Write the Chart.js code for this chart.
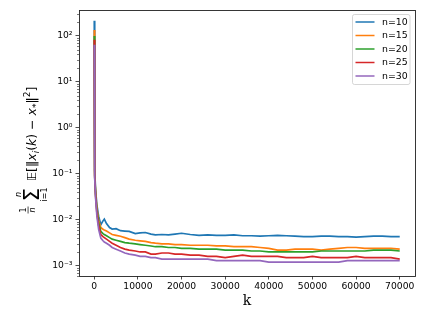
<!DOCTYPE html>
<html>
<head>
<meta charset="utf-8">
<script src="https://cdn.jsdelivr.net/npm/chart.js@4.4.0/dist/chart.umd.min.js"></script>
<style>
  html, body { margin: 0; padding: 0; background: #fff; }
  #wrap { width: 425px; height: 319px; }
</style>
</head>
<body>
<div id="wrap"><canvas id="errChart" width="425" height="319"></canvas></div>
<script>
// iteration index k (shared by every curve)
const iterations = [0, 100, 300, 600, 1000, 1500, 2000, 2300, 2800, 3500,
    4100, 5000, 6000, 7000, 8000, 9400, 10500, 11700, 13000, 14000,
    15500, 17000, 18500, 20000, 22000, 24000, 26000, 28000, 30000, 32000,
    34000, 36000, 38000, 40000, 42000, 44000, 46000, 48000, 50000, 52000,
    54000, 56000, 58000, 60000, 62000, 64000, 66000, 68000, 70000];

const errN10 = [214, 0.12, 0.045, 0.021, 0.012, 0.0078, 0.0095, 0.0104, 0.0083, 0.0068,
    0.0063, 0.0064, 0.0058, 0.0057, 0.0056, 0.0050, 0.0052, 0.0053, 0.0049, 0.0047,
    0.0048, 0.0047, 0.0049, 0.0051, 0.0048, 0.0046, 0.0047, 0.0046, 0.0046, 0.0047,
    0.0045, 0.0045, 0.0044, 0.0045, 0.0046, 0.0045, 0.0044, 0.0043, 0.0043, 0.0044,
    0.0044, 0.0043, 0.0043, 0.0042, 0.0043, 0.0044, 0.0044, 0.0043, 0.0043];
const errN15 = [135, 0.10, 0.040, 0.018, 0.0098, 0.0068, 0.0062, 0.0060, 0.0057, 0.0052,
    0.0048, 0.0046, 0.0044, 0.0041, 0.0038, 0.0036, 0.0035, 0.0034, 0.0032, 0.0031,
    0.0030, 0.0030, 0.0029, 0.0029, 0.0028, 0.0028, 0.0028, 0.0027, 0.0027, 0.0026,
    0.0026, 0.0026, 0.0025, 0.0024, 0.0022, 0.0022, 0.0023, 0.0023, 0.0023, 0.0022,
    0.0023, 0.0024, 0.0025, 0.0025, 0.0024, 0.0024, 0.0024, 0.0024, 0.0023];
const errN20 = [100, 0.09, 0.036, 0.016, 0.0085, 0.0056, 0.0050, 0.0048, 0.0045, 0.0041,
    0.0038, 0.0036, 0.0034, 0.0032, 0.0031, 0.0030, 0.0029, 0.0028, 0.0027, 0.0026,
    0.0026, 0.0025, 0.0025, 0.0024, 0.0024, 0.0023, 0.0023, 0.0023, 0.0022, 0.0022,
    0.0022, 0.0021, 0.0021, 0.0020, 0.0020, 0.0020, 0.0020, 0.0020, 0.0020, 0.0021,
    0.0021, 0.0021, 0.0021, 0.0021, 0.0021, 0.0022, 0.0022, 0.0022, 0.0021];
const errN25 = [82, 0.085, 0.033, 0.014, 0.0075, 0.0048, 0.0043, 0.0041, 0.0038, 0.0034,
    0.0031, 0.0028, 0.0025, 0.0023, 0.0022, 0.0021, 0.0020, 0.0020, 0.0018, 0.0018,
    0.0019, 0.0019, 0.0018, 0.0018, 0.0017, 0.0017, 0.0016, 0.0016, 0.0015, 0.0016,
    0.0017, 0.0016, 0.0016, 0.0016, 0.0016, 0.0015, 0.0015, 0.0015, 0.0016, 0.0015,
    0.0015, 0.0015, 0.0015, 0.0016, 0.0015, 0.0015, 0.0015, 0.0015, 0.0014];
const errN30 = [64, 0.08, 0.030, 0.012, 0.0062, 0.0040, 0.0035, 0.0033, 0.0031, 0.0028,
    0.0025, 0.0023, 0.0021, 0.0019, 0.0018, 0.0017, 0.0016, 0.0016, 0.0015, 0.0015,
    0.0014, 0.0014, 0.0014, 0.0014, 0.0014, 0.0014, 0.0014, 0.0013, 0.0013, 0.0013,
    0.0013, 0.0013, 0.0013, 0.0012, 0.0012, 0.0012, 0.0012, 0.0012, 0.0012, 0.0012,
    0.0012, 0.0012, 0.0013, 0.0013, 0.0013, 0.0013, 0.0013, 0.0013, 0.0013];

const seriesLabels = ['n=10', 'n=15', 'n=20', 'n=25', 'n=30'];
const seriesValues = [errN10, errN15, errN20, errN25, errN30];
const seriesColors = ['#1f77b4', '#ff7f0e', '#2ca02c', '#d62728', '#9467bd'];

const xTicks = [0, 10000, 20000, 30000, 40000, 50000, 60000, 70000];
const yTicks = [1e-3, 1e-2, 1e-1, 1, 10, 100];

const SUP = { '-': '⁻', '0': '⁰', '1': '¹', '2': '²', '3': '³', '4': '⁴' };
function powLabel(v) {
    const e = Math.round(Math.log10(v));
    return '10' + String(e).split('').map(c => SUP[c]).join('');
}

const TICK_FONT = { family: 'DejaVu Sans', size: 9.2 };

// box around the axes, minor log ticks, legend and the math y label
const decorPlugin = {
    id: 'decor',
    afterDraw(chart) {
        const ctx = chart.ctx;
        const ca = chart.chartArea;
        const y = chart.scales.y;

        // minor ticks on the log axis
        ctx.save();
        ctx.strokeStyle = '#222';
        ctx.lineWidth = 0.6;
        for (let e = -4; e <= 2; e++) {
            for (let m = 2; m <= 9; m++) {
                const v = m * Math.pow(10, e);
                if (v < y.min || v > y.max) continue;
                const py = Math.round(y.getPixelForValue(v)) + 0.5;
                ctx.beginPath();
                ctx.moveTo(ca.left, py);
                ctx.lineTo(ca.left - 2, py);
                ctx.stroke();
            }
        }
        ctx.restore();

        // frame
        ctx.save();
        ctx.strokeStyle = '#222';
        ctx.lineWidth = 0.9;
        const l = Math.round(ca.left) + 0.5, t = Math.round(ca.top) + 0.5;
        ctx.strokeRect(l, t, Math.round(ca.right) - Math.round(ca.left), Math.round(ca.bottom) - Math.round(ca.top));
        ctx.restore();

        // legend
        ctx.save();
        const bx = 352.5, by = 14.5, bw = 57.5, bh = 70;
        ctx.fillStyle = 'rgba(255,255,255,0.8)';
        ctx.strokeStyle = '#cccccc';
        ctx.lineWidth = 0.8;
        ctx.beginPath();
        ctx.roundRect(bx, by, bw, bh, 2);
        ctx.fill();
        ctx.stroke();
        ctx.font = '9.4px "DejaVu Sans"';
        ctx.textBaseline = 'middle';
        ctx.textAlign = 'left';
        chart.data.datasets.forEach((ds, i) => {
            const ry = 22 + i * 13.5;
            ctx.strokeStyle = ds.borderColor;
            ctx.lineWidth = 1.5;
            ctx.beginPath();
            ctx.moveTo(355.5, ry);
            ctx.lineTo(374.5, ry);
            ctx.stroke();
            ctx.fillStyle = '#000';
            ctx.fillText(ds.label, 382, ry + 0.5);
        });
        ctx.restore();

        // y label: (1/n) sum_{i=1}^n E[ ||x_i(k) - x_*||^2 ]
        ctx.save();
        ctx.translate(36, 215);
        ctx.rotate(-Math.PI / 2);
        ctx.fillStyle = '#000';
        ctx.textBaseline = 'alphabetic';
        ctx.textAlign = 'center';
        ctx.font = '8px "DejaVu Sans"';
        ctx.fillText('1', 5, -10);
        ctx.font = 'italic 8px "DejaVu Sans"';
        ctx.fillText('n', 5, -1);
        ctx.fillRect(1.5, -8.3, 7, 0.7);
        ctx.font = '21px "DejaVu Sans"';
        ctx.fillText('Σ', 20.5, 2.5);
        ctx.font = 'italic 8px "DejaVu Sans"';
        ctx.fillText('n', 20.5, -15);
        ctx.font = '8px "DejaVu Sans"';
        ctx.fillText('i=1', 20.5, 10.5);

        ctx.textAlign = 'left';
        const main = '12.5px "DejaVu Sans"';
        const ital = 'italic 12.5px "DejaVu Sans"';
        const small = 'italic 9px "DejaVu Sans"';
        const smallUp = '9px "DejaVu Sans"';
        const parts = [
            ['𝔼', ital, 0], ['[', main, 0], ['‖', main, 0], ['x', ital, 0], ['i', small, 2.5],
            ['(', main, 0], ['k', ital, 0], [')', main, 0], [' − ', main, 0],
            ['x', ital, 0], ['*', smallUp, 2.5], ['‖', main, 0], ['2', smallUp, -6], [']', main, 0]
        ];
        let px = 34;
        parts.forEach(([txt, font, dy]) => {
            ctx.font = font;
            ctx.fillText(txt, px, dy);
            px += ctx.measureText(txt).width;
        });
        ctx.restore();
    }
};

const datasets = seriesLabels.map((label, i) => ({
    label: label,
    data: iterations.map((k, j) => ({ x: k, y: seriesValues[i][j] })),
    borderColor: seriesColors[i],
    backgroundColor: seriesColors[i],
    borderWidth: 1.7,
    pointRadius: 0,
    tension: 0,
    fill: false,
    order: seriesLabels.length - i
}));

new Chart(document.getElementById('errChart').getContext('2d'), {
    type: 'line',
    data: { datasets: datasets },
    options: {
        responsive: false,
        animation: false,
        devicePixelRatio: 1,
        layout: { padding: { top: 10, right: 10, left: 0, bottom: 0 } },
        plugins: {
            legend: { display: false },
            tooltip: { enabled: false }
        },
        scales: {
            x: {
                type: 'linear',
                min: -3500,
                max: 73500,
                afterBuildTicks: (s) => { s.ticks = xTicks.map(v => ({ value: v })); },
                afterFit: (s) => { s.height = 43; },
                ticks: {
                    autoSkip: false,
                    maxRotation: 0,
                    padding: 2,
                    color: '#000',
                    font: TICK_FONT,
                    callback: (v) => String(v)
                },
                grid: { drawOnChartArea: false, drawTicks: true, tickLength: 3.5, tickColor: '#222', tickWidth: 0.8 },
                border: { display: false },
                title: {
                    display: true,
                    text: 'k',
                    color: '#000',
                    font: { family: 'DejaVu Serif', size: 14 },
                    padding: { top: 0, bottom: 9.6 }
                }
            },
            y: {
                type: 'logarithmic',
                min: 6.29e-4,
                max: 366,
                afterBuildTicks: (s) => { s.ticks = yTicks.map(v => ({ value: v })); },
                afterFit: (s) => { s.width = 79; },
                ticks: {
                    autoSkip: false,
                    padding: 3,
                    color: '#000',
                    font: TICK_FONT,
                    callback: (v) => powLabel(v)
                },
                grid: { drawOnChartArea: false, drawTicks: true, tickLength: 3.5, tickColor: '#222', tickWidth: 0.8 },
                border: { display: false }
            }
        }
    },
    plugins: [decorPlugin]
});
</script>
</body>
</html>
